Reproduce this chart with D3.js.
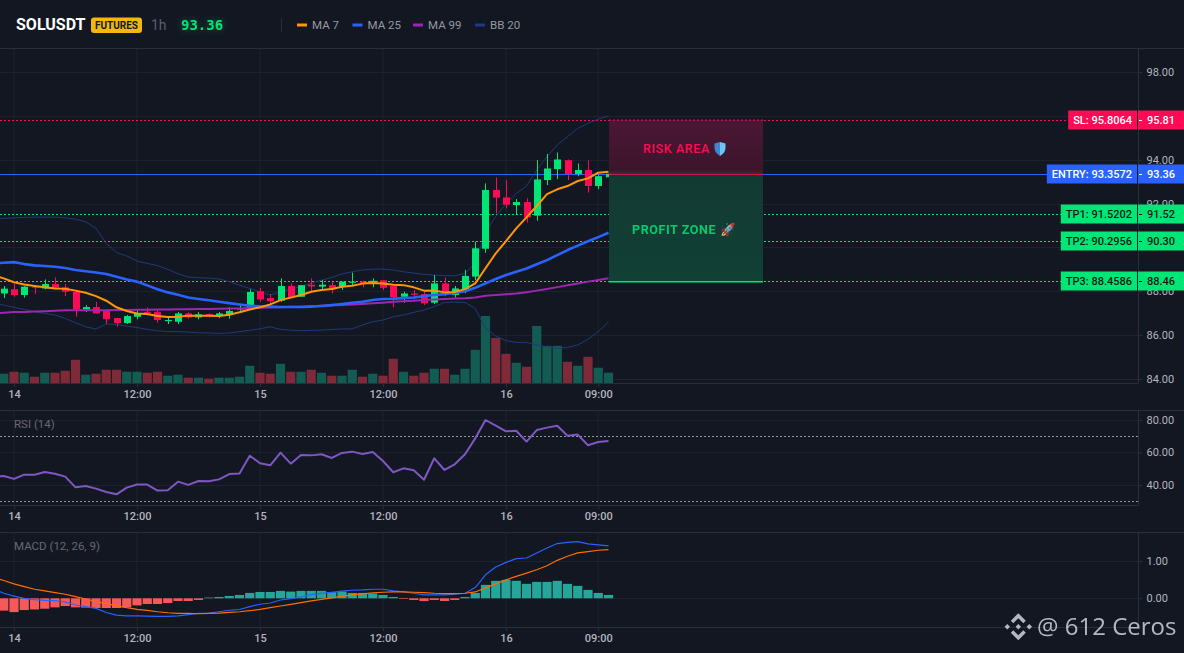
<!DOCTYPE html>
<html>
<head>
<meta charset="utf-8">
<script src="https://cdn.jsdelivr.net/npm/d3@7"></script>
<style>
  html, body { margin: 0; padding: 0; background: #131722; overflow: hidden; }
  text { font-family: Roboto, sans-serif; }
  .domain { display: none; }
</style>
</head>
<body>
<div id="graph"></div>
<script>
var opens = [87.90,88.09,87.83,88.21,88.13,88.33,88.18,87.97,87.17,87.28,87.10,86.78,86.55,86.84,87.05,87.05,86.64,86.61,86.99,86.81,86.96,86.87,86.96,87.17,87.22,88.00,87.69,87.57,88.24,87.75,88.30,88.21,88.28,88.21,88.39,88.44,88.41,88.50,88.24,87.75,87.90,87.87,87.48,88.36,87.83,88.06,88.67,89.94,92.62,92.28,91.93,92.07,91.45,93.07,93.57,93.98,93.35,93.53,92.80,93.20];
var highs = [88.24,88.33,88.24,88.21,88.54,88.63,88.33,88.06,87.37,87.51,87.10,86.78,86.92,87.14,87.27,87.14,86.87,87.05,87.05,87.05,86.99,87.05,87.27,87.42,88.09,88.15,87.87,88.59,88.36,88.28,88.59,88.51,88.44,88.44,88.85,88.48,88.59,88.50,88.24,87.98,88.06,87.98,88.74,88.63,88.24,88.97,90.26,92.92,93.19,93.07,92.21,92.24,93.98,94.26,94.33,94.01,93.83,93.97,93.30,93.50];
var lows = [87.69,87.75,87.71,87.87,88.09,88.09,87.78,86.84,87.05,86.99,86.51,86.38,86.51,86.72,86.90,86.57,86.51,86.51,86.75,86.72,86.81,86.78,86.75,87.11,87.17,87.52,87.42,87.52,87.72,87.75,87.98,88.06,87.90,88.06,88.28,88.18,88.18,88.06,87.27,87.48,87.63,87.37,87.42,87.78,87.72,87.91,88.51,89.76,91.55,91.78,91.48,91.13,91.22,92.84,93.12,93.07,93.25,92.50,92.66,93.10];
var closes = [88.12,87.83,88.21,88.18,88.33,88.16,87.98,87.17,87.28,86.99,86.73,86.55,86.87,86.99,87.01,86.69,86.69,86.99,86.81,86.95,86.89,86.99,87.10,87.22,87.97,87.63,87.55,88.24,87.72,88.28,88.22,88.30,88.09,88.44,88.44,88.36,88.48,88.16,87.72,87.90,87.84,87.45,88.36,87.83,88.13,88.70,89.96,92.62,92.27,91.95,92.07,91.37,93.10,93.60,94.01,93.35,93.53,92.80,93.25,93.36];
var volumes = [28,34,31,19,31,31,37,70,25,28,40,40,34,34,31,34,22,25,16,16,13,16,16,19,52,31,28,58,34,34,40,31,22,22,40,19,28,22,73,34,22,31,43,43,25,43,100,202,136,88,61,49,172,112,112,64,52,79,46,31];

// the line series start one candle before the first visible candle (off the left edge)
var ma7 = [88.72,88.59,88.41,88.31,88.24,88.18,88.13,88.12,88.03,87.93,87.78,87.57,87.27,87.10,86.99,86.96,86.87,86.83,86.84,86.89,86.89,86.89,86.87,86.93,87.04,87.17,87.27,87.40,87.60,87.71,87.83,87.98,88.06,88.10,88.21,88.25,88.35,88.38,88.36,88.30,88.28,88.18,88.03,88.04,87.95,87.97,88.10,88.36,89.05,89.73,90.29,90.87,91.37,91.89,92.43,92.65,92.80,93.03,93.15,93.41,93.45];
var ma25 = [89.28,89.30,89.33,89.24,89.18,89.15,89.12,89.06,88.97,88.91,88.86,88.79,88.66,88.54,88.44,88.27,88.09,87.95,87.84,87.72,87.65,87.59,87.52,87.46,87.40,87.34,87.31,87.30,87.28,87.28,87.28,87.30,87.33,87.37,87.42,87.48,87.52,87.60,87.65,87.66,87.69,87.72,87.78,87.83,87.87,87.92,88.00,88.16,88.36,88.56,88.74,88.89,89.04,89.23,89.42,89.65,89.88,90.08,90.28,90.47,90.67];
var ma99 = [87.00,87.02,87.05,87.06,87.08,87.09,87.11,87.13,87.13,87.14,87.14,87.14,87.15,87.15,87.16,87.16,87.17,87.17,87.18,87.18,87.19,87.19,87.20,87.21,87.22,87.24,87.25,87.26,87.27,87.29,87.30,87.32,87.34,87.36,87.38,87.40,87.42,87.45,87.48,87.52,87.55,87.57,87.60,87.63,87.65,87.67,87.68,87.72,87.80,87.83,87.87,87.90,87.96,88.03,88.10,88.19,88.28,88.36,88.44,88.51,88.59];
var bbUpper = [91.31,91.32,91.35,91.37,91.38,91.38,91.38,91.35,91.29,91.17,90.87,90.18,89.77,89.61,89.38,89.27,89.17,89.00,88.80,88.65,88.62,88.60,88.56,88.44,88.28,88.13,87.98,87.83,87.98,88.10,88.21,88.36,88.51,88.63,88.79,88.89,88.97,89.01,89.01,88.97,88.89,88.83,88.77,88.74,88.71,88.71,88.82,89.27,90.72,91.40,92.00,92.46,92.80,93.53,94.14,94.67,95.05,95.43,95.66,95.85,96.00];
var bbLower = [87.47,87.37,87.27,87.17,87.07,86.99,86.92,86.76,86.57,86.38,86.28,86.51,86.48,86.41,86.35,86.26,86.20,86.16,86.16,86.14,86.11,86.10,86.08,86.10,86.16,86.22,86.29,86.38,86.26,86.23,86.20,86.22,86.23,86.26,86.28,86.29,86.46,86.61,86.69,86.84,86.92,87.04,87.14,87.30,87.49,87.51,87.49,87.22,86.31,85.96,85.75,85.67,85.67,85.55,85.47,85.40,85.44,85.55,85.81,86.16,86.60];

var rsi = [45,45.5,43.7,46.3,46.3,48,46.9,45.1,38.5,39.3,37.7,35.6,34.2,38.3,40.2,40.2,36.5,36.7,42,40,42.4,42.2,43.4,46.7,47.1,58,53.3,52.1,59.9,53.1,58.4,58.2,58.9,56.6,59.7,60.5,59.1,60.3,54.7,47.8,50.2,49,43.2,56.4,49.2,52.7,58.9,68.7,80,76.5,73,73.4,66.7,73.8,75.3,76.5,70.3,71,64.4,66.4,67];

var macd = [0.25,0.135,0.06,0,-0.036,-0.054,-0.063,-0.10,-0.18,-0.225,-0.27,-0.38,-0.45,-0.47,-0.47,-0.48,-0.486,-0.486,-0.47,-0.44,-0.405,-0.396,-0.36,-0.32,-0.30,-0.225,-0.16,-0.126,-0.045,-0.01,0.036,0.10,0.135,0.16,0.19,0.216,0.225,0.243,0.243,0.198,0.17,0.135,0.09,0.09,0.09,0.108,0.135,0.288,0.63,0.838,0.964,1.063,1.08,1.216,1.35,1.468,1.5,1.52,1.46,1.43,1.405];
var signal = [0.56,0.478,0.387,0.315,0.243,0.198,0.153,0.108,0.045,-0.018,-0.09,-0.144,-0.198,-0.252,-0.297,-0.324,-0.36,-0.387,-0.405,-0.405,-0.414,-0.405,-0.396,-0.378,-0.36,-0.333,-0.297,-0.252,-0.207,-0.162,-0.117,-0.07,-0.03,0.01,0.054,0.09,0.117,0.144,0.162,0.17,0.17,0.162,0.153,0.135,0.126,0.126,0.135,0.17,0.28,0.387,0.495,0.586,0.676,0.766,0.874,1.018,1.126,1.216,1.252,1.288,1.306];
var hist = [-0.33,-0.37,-0.315,-0.30,-0.28,-0.243,-0.207,-0.243,-0.25,-0.26,-0.26,-0.26,-0.243,-0.19,-0.153,-0.153,-0.126,-0.072,-0.072,-0.045,0.02,0.036,0.063,0.09,0.144,0.17,0.17,0.198,0.18,0.198,0.198,0.198,0.17,0.18,0.144,0.144,0.126,0.09,0.036,-0.018,-0.045,-0.072,-0.045,-0.072,-0.045,0.036,0.144,0.36,0.468,0.495,0.468,0.387,0.44,0.44,0.468,0.387,0.333,0.225,0.144,0.09];

var timeTicks = [1,13,25,37,49,58];
var timeLabels = ["14","12:00","15","12:00","16","09:00"];
var priceTicks = [98,96,94,92,90,88,86,84];
var hiddenPriceLabels = [96,90]; // sit right under the SL and TP2 tags
var rsiTicks = [80,60,40];
var macdTicks = [1,0];

var priceLines = [
  {name:"SL", value:95.8064, color:"#ff0a54", text:"#ffffff", dash:"2,2"},
  {name:"ENTRY", value:93.3572, color:"#2962ff", text:"#ffffff", dash:null},
  {name:"TP1", value:91.5202, color:"#00e676", text:"#0b1a16", dash:"2,2"},
  {name:"TP2", value:90.2956, color:"#00e676", text:"#0b1a16", dash:"2,2"},
  {name:"TP3", value:88.4586, color:"#00e676", text:"#0b1a16", dash:"2,2"}
];
var legendNames = ["MA 7","MA 25","MA 99","BB 20"];
var legendColors = ["#ff9800","#2962ff","#9c27b0","#1e3a8a"];
var legendX = [297,352.5,413,475];

var W = 1184, H = 653, axisX = 1138.5;
var up = "#00e676", down = "#ff0a54", gridColor = "#1e222d", borderColor = "#2a2e39", tickColor = "#b2b5be";

var svg = d3.select("#graph").append("svg").attr("width", W).attr("height", H).style("display","block");

var x = d3.scaleLinear().domain([0,59]).range([3.75,608.5]);
var yPrice = d3.scaleLinear().domain([84,98]).range([379,72]);
var yVol = d3.scaleLinear().domain([0,202]).range([383,316]);
var yRsi = d3.scaleLinear().domain([40,80]).range([484.9,420]);
var yMacd = d3.scaleLinear().domain([0,1]).range([598.3,561]);

// grid + axes for one panel
function panel(y, ticks, fmt, top, bottom) {
  var g = svg.append("g");
  g.selectAll(".v").data(timeTicks).enter().append("line")
    .attr("x1", x).attr("x2", x).attr("y1", top).attr("y2", bottom)
    .attr("stroke", gridColor);
  g.selectAll(".h").data(ticks).enter().append("line")
    .attr("x1", 0).attr("x2", axisX).attr("y1", function(d){ return Math.round(y(d))+0.5; }).attr("y2", function(d){ return Math.round(y(d))+0.5; })
    .attr("stroke", gridColor);
  g.append("line").attr("x1",0).attr("x2",W).attr("y1",top+0.5).attr("y2",top+0.5).attr("stroke",borderColor);
  g.append("line").attr("x1",0).attr("x2",axisX).attr("y1",bottom+0.5).attr("y2",bottom+0.5).attr("stroke",borderColor);
  g.append("line").attr("x1",axisX).attr("x2",axisX).attr("y1",top).attr("y2",bottom).attr("stroke",borderColor);

  var ya = svg.append("g").attr("transform","translate("+axisX+",0)")
    .call(d3.axisRight(y).tickValues(ticks).tickFormat(fmt).tickSize(4).tickPadding(4));
  ya.selectAll("text").attr("fill",tickColor).style("font-size","11px").style("font-family","Roboto, sans-serif");
  ya.selectAll("line").attr("stroke",borderColor);

  var xa = svg.append("g").attr("transform","translate(0,"+bottom+")")
    .call(d3.axisBottom(x).tickValues(timeTicks).tickFormat(function(d,i){ return timeLabels[i]; }).tickSize(4).tickPadding(3));
  xa.selectAll("text").attr("fill",tickColor).style("font-size","11px").style("font-weight","500").style("font-family","Roboto, sans-serif");
  xa.selectAll("line").attr("stroke",borderColor);
}

panel(yPrice, priceTicks, function(d){ return hiddenPriceLabels.indexOf(d) >= 0 ? "" : d3.format(".2f")(d); }, 48, 383);
panel(yRsi, rsiTicks, d3.format(".2f"), 410, 505);
panel(yMacd, macdTicks, d3.format(".2f"), 532, 627);

// volume behind candles
svg.append("g").selectAll("rect").data(volumes).enter().append("rect")
  .attr("x", function(d,i){ return x(i)-4.6; })
  .attr("width", 9.2)
  .attr("y", function(d){ return yVol(d); })
  .attr("height", function(d){ return yVol(0)-yVol(d); })
  .attr("fill", function(d,i){ return closes[i] >= opens[i] ? "#135c54" : "#7f2a38"; });

// price lines
var pl = svg.append("g");
priceLines.forEach(function(p){
  pl.append("line").attr("x1",0).attr("x2",axisX-10)
    .attr("y1",Math.round(yPrice(p.value))+0.5).attr("y2",Math.round(yPrice(p.value))+0.5)
    .attr("stroke",p.color).attr("stroke-width",1).attr("stroke-dasharray",p.dash);
});

var line = function(y) {
  return d3.line().x(function(d,i){ return x(i-1); }).y(function(d){ return y(d); });
};

function drawLine(data, y, color, w) {
  svg.append("path").datum(data).attr("d", line(y)).attr("fill","none").attr("stroke",color).attr("stroke-width",w).attr("stroke-linejoin","round");
}

drawLine(bbUpper, yPrice, "#1e3a7a", 1);
drawLine(bbLower, yPrice, "#1e3a7a", 1);

// candles
var c = svg.append("g").selectAll("g").data(opens).enter().append("g");
c.append("line")
  .attr("x1", function(d,i){ return Math.round(x(i))+0.5; }).attr("x2", function(d,i){ return Math.round(x(i))+0.5; })
  .attr("y1", function(d,i){ return yPrice(highs[i]); }).attr("y2", function(d,i){ return yPrice(lows[i]); })
  .attr("stroke", function(d,i){ return closes[i] >= opens[i] ? up : down; });
c.append("rect")
  .attr("x", function(d,i){ return Math.round(x(i))+0.5-3.5; })
  .attr("width", 7)
  .attr("y", function(d,i){ return yPrice(Math.max(opens[i],closes[i])); })
  .attr("height", function(d,i){ return Math.max(1, Math.abs(yPrice(opens[i])-yPrice(closes[i]))); })
  .attr("fill", function(d,i){ return closes[i] >= opens[i] ? up : down; });

drawLine(ma99, yPrice, "#9c27b0", 2);
drawLine(ma25, yPrice, "#2962ff", 2.6);
drawLine(ma7, yPrice, "#ff9800", 2);

// risk / profit boxes
var defs = svg.append("defs");
var g1 = defs.append("linearGradient").attr("id","risk").attr("x1",0).attr("x2",0).attr("y1",0).attr("y2",1);
g1.append("stop").attr("offset",0).attr("stop-color","#4c1734");
g1.append("stop").attr("offset",0.92).attr("stop-color","#3c152c");
g1.append("stop").attr("offset",1).attr("stop-color","#2c2c35");
var g2 = defs.append("linearGradient").attr("id","profit").attr("x1",0).attr("x2",0).attr("y1",0).attr("y2",1);
g2.append("stop").attr("offset",0).attr("stop-color","#123a33");
g2.append("stop").attr("offset",1).attr("stop-color","#114035");

var boxL = 609, boxR = 763;
svg.append("rect").attr("x",boxL).attr("width",boxR-boxL).attr("y",yPrice(95.8064)).attr("height",yPrice(93.3572)-yPrice(95.8064)).attr("fill","url(#risk)");
svg.append("rect").attr("x",boxL).attr("width",boxR-boxL).attr("y",yPrice(93.3572)).attr("height",yPrice(88.4586)-yPrice(93.3572)).attr("fill","url(#profit)");
svg.append("line").attr("x1",boxL).attr("x2",boxR).attr("y1",yPrice(95.8064)).attr("y2",yPrice(95.8064)).attr("stroke",down).attr("stroke-dasharray","2,2");
svg.append("line").attr("x1",boxL).attr("x2",boxR).attr("y1",yPrice(93.3572)+0.5).attr("y2",yPrice(93.3572)+0.5).attr("stroke",down);
svg.append("line").attr("x1",boxL).attr("x2",boxR).attr("y1",yPrice(88.4586)+0.5).attr("y2",yPrice(88.4586)+0.5).attr("stroke",up).attr("stroke-width",1.5);

svg.append("text").attr("x",643).attr("y",153).attr("fill",down)
  .style("font-size","12.5px").style("font-weight","500").style("letter-spacing","0.6px").text("RISK AREA");
// shield icon next to RISK AREA
var shield = svg.append("g").attr("transform","translate(720,149)");
shield.append("path").attr("d","M-5.5,-5.5L0,-7L0,7C-3.5,5 -5.5,2 -5.5,-1Z").attr("fill","#3f86cf");
shield.append("path").attr("d","M5.5,-5.5L0,-7L0,7C3.5,5 5.5,2 5.5,-1Z").attr("fill","#6fc3f7");

svg.append("text").attr("x",632).attr("y",234).attr("fill",up).attr("opacity",0.85)
  .style("font-size","12.5px").style("font-weight","700").style("letter-spacing","0.6px").text("PROFIT ZONE 🚀");

// price tags on the right
var tags = svg.append("g");
priceLines.forEach(function(p){
  var yy = Math.round(yPrice(p.value));
  var label = p.name + ": " + p.value.toFixed(4);
  var t = tags.append("text").attr("x",1132).attr("y",yy+4).attr("text-anchor","end").attr("fill",p.text)
    .style("font-size","11px").style("font-weight","500").text(label);
  var w = t.node().getComputedTextLength() + 10;
  tags.insert("rect","text").attr("x",1137-w).attr("y",yy-9.5).attr("width",w).attr("height",19).attr("fill",p.color);
  tags.append("rect").attr("x",1138).attr("y",yy-9.5).attr("width",46).attr("height",19).attr("fill",p.color);
  tags.append("rect").attr("x",1139).attr("y",yy).attr("width",3).attr("height",1).attr("fill",p.text);
  tags.append("text").attr("x",1147).attr("y",yy+4).attr("fill",p.text).style("font-size","11px").style("font-weight","500").text(p.value.toFixed(2));
});

// RSI
[70,30].forEach(function(v){
  svg.append("line").attr("x1",0).attr("x2",axisX).attr("y1",Math.round(yRsi(v))+0.5).attr("y2",Math.round(yRsi(v))+0.5)
    .attr("stroke","#b2b5be").attr("stroke-opacity",0.8).attr("stroke-dasharray","2,2");
});
drawLine(rsi, yRsi, "#7e57c2", 2);
svg.append("text").attr("x",14).attr("y",428).attr("fill","#666973").style("font-size","11.5px").text("RSI (14)");

// MACD
svg.append("g").selectAll("rect").data(hist).enter().append("rect")
  .attr("x", function(d,i){ return x(i)-4.6; })
  .attr("width", 9.2)
  .attr("y", function(d){ return yMacd(Math.max(0,d)); })
  .attr("height", function(d){ return Math.abs(yMacd(d)-yMacd(0)); })
  .attr("fill", function(d){ return d >= 0 ? "#26a69a" : "#f5595a"; });
drawLine(macd, yMacd, "#2962ff", 1.2);
drawLine(signal, yMacd, "#ff6d00", 1.2);
svg.append("text").attr("x",14).attr("y",550).attr("fill","#666973").style("font-size","11.5px").text("MACD (12, 26, 9)");

// header
svg.append("line").attr("x1",0).attr("x2",W).attr("y1",48.5).attr("y2",48.5).attr("stroke",borderColor);
svg.append("text").attr("x",16).attr("y",30).attr("fill","#ffffff").style("font-size","16px").style("font-weight","700").text("SOLUSDT");
svg.append("rect").attr("x",91).attr("y",17.5).attr("width",51).attr("height",15.5).attr("rx",3).attr("fill","#f0b90b");
svg.append("text").attr("x",116.5).attr("y",29).attr("text-anchor","middle").attr("fill","#131722").style("font-size","10px").style("font-weight","700").text("FUTURES");
svg.append("text").attr("x",151).attr("y",30).attr("fill","#5a5f6d").style("font-size","14px").text("1h");
svg.append("text").attr("x",181).attr("y",30).attr("fill","#00e676").style("font-family","'DejaVu Sans Mono', monospace").style("font-size","14px").style("font-weight","700")
  .style("filter","drop-shadow(0 0 3px rgba(0,230,118,0.4))").text("93.36");
svg.append("line").attr("x1",281.5).attr("x2",281.5).attr("y1",18).attr("y2",32).attr("stroke",borderColor);
legendNames.forEach(function(n,i){
  svg.append("rect").attr("x",legendX[i]).attr("y",23.5).attr("width",10).attr("height",3).attr("fill",legendColors[i]);
  svg.append("text").attr("x",legendX[i]+15).attr("y",29).attr("fill","#9598a1").style("font-size","11.5px").text(n);
});

// watermark
var wm = svg.append("g").attr("transform","translate(1018.3,626.7)").attr("fill","#d1d4dc").attr("opacity",0.85);
wm.append("path").attr("d","M0,-2.7L2.7,0L0,2.7L-2.7,0Z");
wm.append("path").attr("d","M-11,-2.7L-8.3,0L-11,2.7L-13.7,0Z");
wm.append("path").attr("d","M11,-2.7L13.7,0L11,2.7L8.3,0Z");
wm.append("path").attr("d","M0,-13.5L7.5,-6L5,-3.5L0,-8.5L-5,-3.5L-7.5,-6Z");
wm.append("path").attr("d","M0,13.5L7.5,6L5,3.5L0,8.5L-5,3.5L-7.5,6Z");
svg.append("text").attr("x",1037).attr("y",635).attr("fill","#d1d4dc").attr("opacity",0.85)
  .style("font-family","'Open Sans', sans-serif").style("font-size","24px").text("@ 612 Ceros");
</script>
</body>
</html>
